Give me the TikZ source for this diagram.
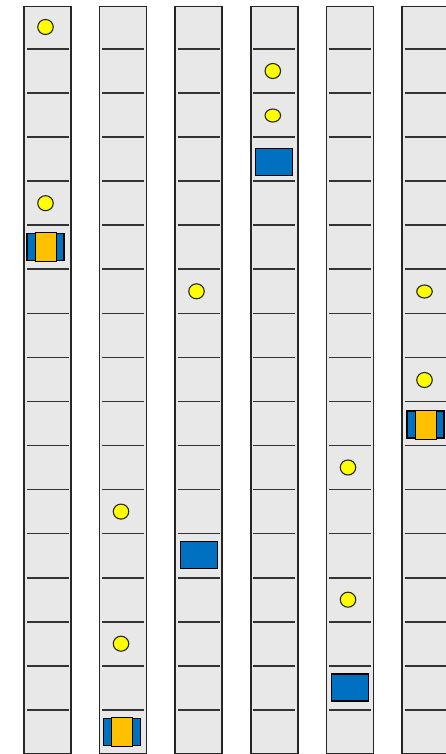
\documentclass[tikz,border=0pt]{standalone}
\usepackage{tikz}
\usetikzlibrary{shapes.geometric}

\definecolor{lanegray}{HTML}{E8E8E8}
\definecolor{brickblue}{HTML}{0070C0}
\definecolor{corefill}{HTML}{FFC000}
\definecolor{coinfill}{HTML}{FFFF00}

\begin{document}
\begin{tikzpicture}[x=1pt, y=-1pt,
  lane/.style={draw=black!85, fill=lanegray, line width=1.7pt},
  rung/.style={draw=black!80, line width=1.7pt},
  coin/.style={ellipse, draw=black!85, fill=coinfill, line width=1.1pt, inner sep=0pt, minimum width=15.5pt, minimum height=15pt},
  flatcoin/.style={coin, minimum height=13pt},
  brick/.style={draw=black, fill=brickblue, line width=1.3pt, inner sep=0pt, minimum width=37pt, minimum height=27pt},
  core/.style={draw=black, fill=corefill, line width=1pt, inner sep=0pt, minimum width=21pt, minimum height=29pt}]
\useasboundingbox (0,0) rectangle (446,754);
\clip (0,0) rectangle (446,754);
% lanes with their rungs
\foreach \c in {0,...,5} {
  \draw[lane] ({24+75.6*\c},6.5) rectangle ++(47,747);
  \foreach \r in {1,...,16}
    \draw[rung] ({24+75.6*\c+2.5},{5+44.05*\r}) -- ++(42,0);
}
% lane 1
\node[coin] (c1a) at (45.5,27) {};
\node[coin] (c1b) at (45.5,203.2) {};
\node[brick] (p1) at (45.5,247.3) {};
\node[core] (p1c) at (p1) {};
% lane 2
\node[coin] (c2a) at (121,511.6) {};
\node[coin] (c2b) at (121,643.7) {};
\node[brick] (p2) at (122,731.8) {};
\node[core] (p2c) at (p2) {};
% lane 3
\node[coin] (c3a) at (196.5,291.3) {};
\node[brick] (b3) at (198.7,555.3) {};
% lane 4
\node[coin] (c4a) at (272.8,71) {};
\node[flatcoin] (c4b) at (272.8,115.5) {};
\node[brick] (b4) at (274,162) {};
% lane 5
\node[coin] (c5a) at (348,467.5) {};
\node[coin] (c5b) at (348,599.7) {};
\node[brick] (b5) at (349.8,687.5) {};
% lane 6
\node[flatcoin] (c6a) at (424.5,291.5) {};
\node[coin] (c6b) at (424.5,380) {};
\node[brick] (p6) at (425.5,424.5) {};
\node[core] (p6c) at (p6) {};
\end{tikzpicture}
\end{document}
